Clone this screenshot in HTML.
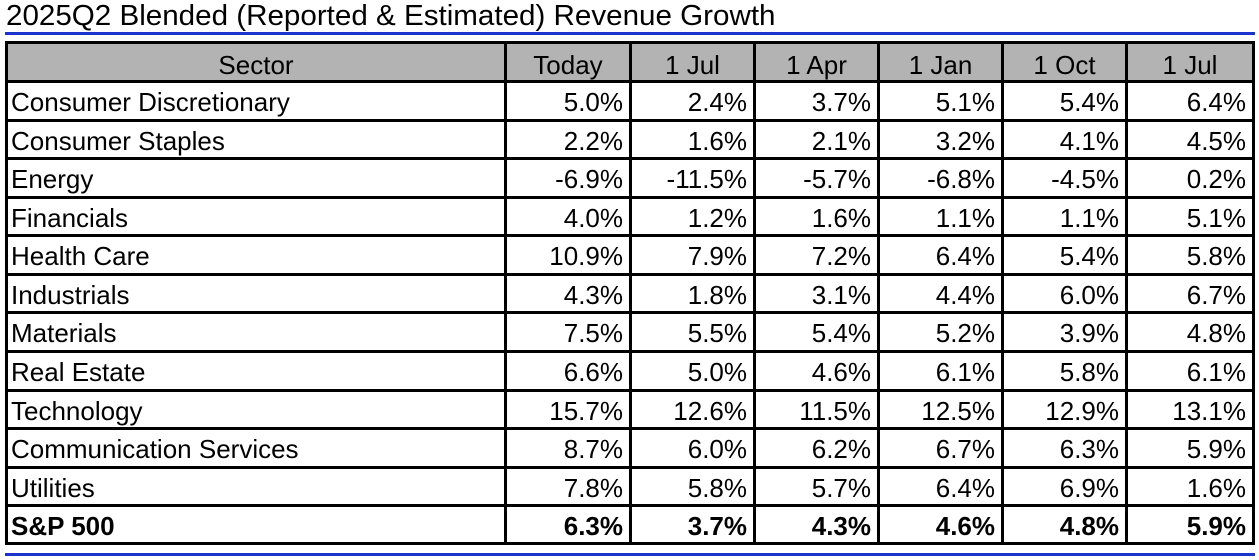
<!DOCTYPE html>
<html><head><meta charset="utf-8"><style>
body{margin:0;width:1259px;height:560px;background:#fff;position:relative;overflow:hidden;font-family:"Liberation Sans",Arial,sans-serif;color:#000}
.t{position:absolute;left:6px;top:0px;font-size:29px;line-height:32px;white-space:nowrap;transform-origin:0 0;transform:scaleX(1.02)}
.bl{position:absolute;left:5px;width:1250px;height:3px;background:#1a33cc}
.h{position:absolute;height:3px;background:#000;left:5px;width:1250px}
.v{position:absolute;width:3px;background:#000;top:41px;height:504px}
.c{position:absolute;font-size:26px;white-space:nowrap;line-height:26px}
.hd{position:absolute;left:5px;top:41px;width:1250px;height:40px;background:#b3b3b3}
</style></head><body>
<div class="t">2025Q2 Blended (Reported &amp; Estimated) Revenue Growth</div>
<div class="bl" style="top:32px"></div>
<div class="bl" style="top:553px"></div>
<div class="hd"></div>
<div id="g"></div>
<script>
var cols=[5,504,629,753,877,1001,1125,1252];
var rows=[41,80,119,157,196,234,273,311,350,389,427,466,504,542];
var g=document.getElementById('g'),h='';
rows.forEach(function(y){h+='<div class="h" style="top:'+y+'px"></div>'});
cols.forEach(function(x){h+='<div class="v" style="left:'+x+'px"></div>'});
var hdr=['Sector','Today','1 Jul','1 Apr','1 Jan','1 Oct','1 Jul'];
for(var i=0;i<7;i++){var l=cols[i]+3,w=cols[i+1]-cols[i]-3;h+='<div class="c" style="left:'+l+'px;width:'+w+'px;text-align:center;top:'+(rows[0]+11)+'px">'+hdr[i]+'</div>'}
var d=[["Consumer Discretionary","5.0%","2.4%","3.7%","5.1%","5.4%","6.4%"],
["Consumer Staples","2.2%","1.6%","2.1%","3.2%","4.1%","4.5%"],
["Energy","-6.9%","-11.5%","-5.7%","-6.8%","-4.5%","0.2%"],
["Financials","4.0%","1.2%","1.6%","1.1%","1.1%","5.1%"],
["Health Care","10.9%","7.9%","7.2%","6.4%","5.4%","5.8%"],
["Industrials","4.3%","1.8%","3.1%","4.4%","6.0%","6.7%"],
["Materials","7.5%","5.5%","5.4%","5.2%","3.9%","4.8%"],
["Real Estate","6.6%","5.0%","4.6%","6.1%","5.8%","6.1%"],
["Technology","15.7%","12.6%","11.5%","12.5%","12.9%","13.1%"],
["Communication Services","8.7%","6.0%","6.2%","6.7%","6.3%","5.9%"],
["Utilities","7.8%","5.8%","5.7%","6.4%","6.9%","1.6%"],
["S&amp;P 500","6.3%","3.7%","4.3%","4.6%","4.8%","5.9%"]];
d.forEach(function(r,ri){var top=(rows[ri+1]+rows[ri+2])/2+1.5-12;var b=ri==11?'font-weight:bold;':'';
r.forEach(function(v,ci){if(ci==0)h+='<div class="c" style="'+b+'left:'+(cols[0]+6)+'px;top:'+top+'px">'+v+'</div>';
else h+='<div class="c" style="'+b+'left:'+(cols[ci]+3)+'px;width:'+(cols[ci+1]-cols[ci]-9)+'px;text-align:right;top:'+top+'px">'+v+'</div>'})});
g.innerHTML=h;
</script>
</body></html>
